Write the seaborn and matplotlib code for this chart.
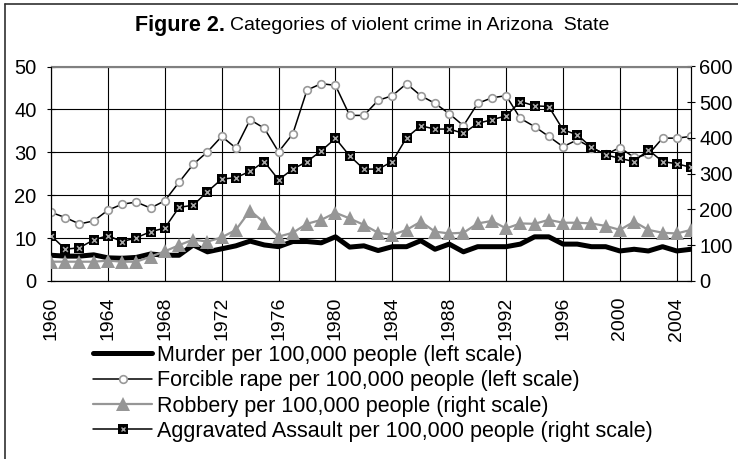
import matplotlib.pyplot as plt
from matplotlib.legend_handler import HandlerTuple
from matplotlib.lines import Line2D
import pandas as pd
import seaborn as sns

years = list(range(1960, 2006))

murder = [6.0, 5.8, 5.8, 6.1, 5.4, 5.3, 5.5, 6.3, 6.0, 6.0,
          8.4, 6.8, 7.5, 8.2, 9.3, 8.4, 8.0, 9.2, 9.2, 8.9,
          10.3, 7.9, 8.2, 7.1, 8.0, 8.0, 9.4, 7.4, 8.6, 6.8,
          8.0, 8.0, 8.0, 8.6, 10.3, 10.3, 8.6, 8.6, 8.0, 8.0,
          7.0, 7.4, 7.0, 8.0, 7.0, 7.4]
rape = [16.0, 14.8, 13.3, 14.0, 16.5, 17.9, 18.4, 17.0, 18.7, 23.0,
        27.2, 30.1, 33.7, 31.0, 37.6, 35.6, 30.1, 34.3, 44.5, 46.0,
        45.6, 38.6, 38.6, 42.1, 43.2, 46.0, 43.2, 41.4, 39.0, 36.2,
        41.4, 42.7, 43.2, 37.9, 36.0, 33.7, 31.3, 32.9, 31.1, 29.5,
        31.1, 28.8, 29.5, 33.3, 33.3, 33.7]
robbery = [54, 54, 54, 54, 57, 54, 54, 68, 83, 100,
           116, 110, 122, 143, 197, 163, 124, 135, 160, 171,
           191, 175, 157, 135, 129, 143, 166, 138, 133, 135,
           161, 168, 147, 161, 160, 171, 163, 163, 161, 154,
           143, 166, 143, 135, 133, 143]
assault = [127, 89, 93, 115, 127, 110, 121, 138, 148, 206,
           212, 250, 285, 289, 307, 334, 283, 313, 334, 364,
           399, 350, 313, 313, 334, 401, 434, 425, 425, 413,
           441, 451, 462, 502, 490, 488, 423, 409, 374, 353,
           343, 334, 367, 334, 328, 318]

series_labels = [
    "Murder per 100,000 people (left scale)",
    "Forcible rape per 100,000 people (left scale)",
    "Robbery per 100,000 people (right scale)",
    "Aggravated Assault per 100,000 people (right scale)",
]
year_ticks = list(range(1960, 2005, 4))
left_ticks = [0, 10, 20, 30, 40, 50]
right_ticks = [0, 100, 200, 300, 400, 500, 600]

df = pd.DataFrame({"year": years, "murder": murder, "rape": rape,
                   "robbery": robbery, "assault": assault})

sns.set_style("white", rc={"axes.edgecolor": "black", "text.color": "black",
                           "xtick.color": "black", "ytick.color": "black"})
plt.rcParams["font.family"] = ["Liberation Sans", "DejaVu Sans"]

fig = plt.figure(figsize=(7.38, 4.59), dpi=100)
ax = fig.add_axes([51 / 738, 1 - 281 / 459, 640 / 738, 214.5 / 459])
ax2 = ax.twinx()

gray = "#969696"

sns.lineplot(data=df, x="year", y="murder", ax=ax, color="black",
             linewidth=3.6, label=series_labels[0], legend=False, zorder=3)
sns.lineplot(data=df, x="year", y="rape", ax=ax, color="black",
             linewidth=1.1, marker="o", markersize=5.5, markerfacecolor="white",
             markeredgecolor="#999999", markeredgewidth=1.2,
             label=series_labels[1], legend=False, zorder=4)
sns.lineplot(data=df, x="year", y="robbery", ax=ax2, color=gray,
             linewidth=1.6, marker="^", markersize=10, markeredgewidth=0,
             label=series_labels[2], legend=False, zorder=3)
sns.lineplot(data=df, x="year", y="assault", ax=ax2, color="black",
             linewidth=1.1, marker="s", markersize=6.5, markeredgewidth=0,
             label=series_labels[3], legend=False, zorder=4)
sns.scatterplot(data=df, x="year", y="assault", ax=ax2, marker="x",
                color="#a8a8a8", s=12, linewidth=1.1, zorder=5, legend=False)

ax.set_xlim(1960, 2005)
ax.set_ylim(0, 50)
ax2.set_ylim(0, 600)
ax.set_xticks(year_ticks)
ax.set_yticks(left_ticks)
ax2.set_yticks(right_ticks)
ax.set_xlabel("")
ax.set_ylabel("")
ax2.set_ylabel("")

ax.grid(True, color="black", linewidth=0.8)
ax.set_axisbelow(True)
ax2.grid(False)

ax.tick_params(axis="x", direction="inout", length=6, width=0.8,
               labelrotation=90, labelsize=14, pad=8.5)
ax.tick_params(axis="y", direction="inout", length=6, width=0.8,
               labelsize=14.5, pad=7.5, left=True)
ax2.tick_params(axis="y", direction="inout", length=6, width=0.8,
                labelsize=14.5, pad=3, right=True)
for a in (ax, ax2):
    for side, sp in a.spines.items():
        sp.set_linewidth(0.8)
        sp.set_color("black")
    a.spines["top"].set_color("#808080")

fig.text(225 / 738, 1 - 26 / 459, "Figure 2.", ha="right", va="center",
         fontsize=15.5, fontweight="bold")
fig.text(230 / 738, 1 - 26 / 459, "Categories of violent crime in Arizona  State",
         ha="left", va="center", fontsize=14)

h_murder, h_rape = ax.get_lines()[:2]
h_rob, h_ass = ax2.get_lines()[:2]
x_proxy = Line2D([], [], linestyle="none", marker="x", color="#a8a8a8",
                 markersize=3, markeredgewidth=1.0)
fig.legend([h_murder, h_rape, h_rob, (h_ass, x_proxy)], series_labels,
           loc="upper left", bbox_to_anchor=(93 / 738, 1 - 345 / 459),
           frameon=False, fontsize=15.5, handlelength=2.75, handletextpad=0.22,
           labelspacing=0.2, borderpad=0, borderaxespad=0,
           handler_map={tuple: HandlerTuple(ndivide=1)})

fig.add_artist(Line2D([4.5 / 738, 4.5 / 738], [0, 1 - 3.5 / 459],
                      color="#303030", linewidth=1.2))
fig.add_artist(Line2D([4.5 / 738, 1], [1 - 3.5 / 459, 1 - 3.5 / 459],
                      color="#303030", linewidth=1.2))

fig.savefig("out.png", dpi=100)
